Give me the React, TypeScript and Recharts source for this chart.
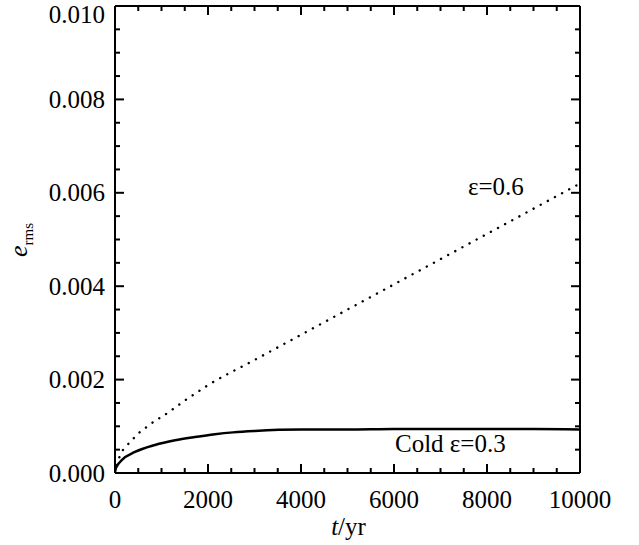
import React from 'react';
import { LineChart, Line, XAxis, YAxis } from 'recharts';

// Cold epsilon=0.3 (solid)
const coldTimes = [0, 10, 50, 150, 430, 860, 1290, 1720, 2150, 2540, 3000, 4000, 5000, 6000, 7000, 8000, 9000, 10000];
const coldValues = [0, 0.00007, 0.00016, 0.00028, 0.00045, 0.0006, 0.0007, 0.00077, 0.00083, 0.00087, 0.0009, 0.00093, 0.00093, 0.00094, 0.00094, 0.00094, 0.00094, 0.00093];

// epsilon=0.6 (dotted)
const hotTimes = [0, 50, 110, 250, 390, 540, 700, 880, 1000, 1500, 2000, 3000, 4000, 5000, 6000, 7000, 8000, 9000, 10000];
const hotValues = [0, 0.0002, 0.00038, 0.00058, 0.00073, 0.00088, 0.001, 0.00113, 0.0012, 0.00155, 0.00188, 0.00242, 0.00296, 0.0035, 0.00404, 0.00458, 0.00512, 0.00566, 0.0062];

const xMajorTicks = [0, 2000, 4000, 6000, 8000, 10000];
const xAllTicks = [0, 500, 1000, 1500, 2000, 2500, 3000, 3500, 4000, 4500, 5000, 5500, 6000, 6500, 7000, 7500, 8000, 8500, 9000, 9500, 10000];
const xTickLabels = ['0', '2000', '4000', '6000', '8000', '10000'];

const yMajorTicks = [0, 0.002, 0.004, 0.006, 0.008, 0.01];
const yAllTicks = [0, 0.0005, 0.001, 0.0015, 0.002, 0.0025, 0.003, 0.0035, 0.004, 0.0045, 0.005, 0.0055, 0.006, 0.0065, 0.007, 0.0075, 0.008, 0.0085, 0.009, 0.0095, 0.01];
const yTickLabels = ['0.000', '0.002', '0.004', '0.006', '0.008', '0.010'];

const hotLabel = '\u03b5=0.6';
const coldLabel = 'Cold \u03b5=0.3';

const coldData = coldTimes.map((t, i) => ({ t, v: coldValues[i] }));
const hotData = hotTimes.map((t, i) => ({ t, v: hotValues[i] }));

const FONT = 'Liberation Serif';
const FS = 25;
const MAJOR = 9;
const MINOR = 5;
const textStyle = { fontFamily: FONT };

const majorIndex = (arr: number[], v: number) => arr.findIndex((m) => Math.abs(m - v) < 1e-9);

const BottomTick = (p: any) => {
  const idx = majorIndex(xMajorTicks, p.payload.value);
  const len = idx >= 0 ? MAJOR : MINOR;
  return (
    <g>
      <line x1={p.x} x2={p.x} y1={p.y} y2={p.y - len} stroke="#000" strokeWidth={2} />
      {idx >= 0 && (
        <text x={p.x} y={p.y + 35} textAnchor="middle" style={textStyle} fontSize={FS} fill="#000">
          {xTickLabels[idx]}
        </text>
      )}
    </g>
  );
};

const TopTick = (p: any) => {
  const idx = majorIndex(xMajorTicks, p.payload.value);
  const len = idx >= 0 ? MAJOR : MINOR;
  return <line x1={p.x} x2={p.x} y1={p.y} y2={p.y + len} stroke="#000" strokeWidth={2} />;
};

const LeftTick = (p: any) => {
  const idx = majorIndex(yMajorTicks, p.payload.value);
  const len = idx >= 0 ? MAJOR : MINOR;
  const yy = Math.max(p.y + 8.5, 23);
  return (
    <g>
      <line x1={p.x} x2={p.x + len} y1={p.y} y2={p.y} stroke="#000" strokeWidth={2} />
      {idx >= 0 && (
        <text x={p.x - 10} y={yy} textAnchor="end" style={textStyle} fontSize={FS} fill="#000">
          {yTickLabels[idx]}
        </text>
      )}
    </g>
  );
};

const RightTick = (p: any) => {
  const idx = majorIndex(yMajorTicks, p.payload.value);
  const len = idx >= 0 ? MAJOR : MINOR;
  return <line x1={p.x} x2={p.x - len} y1={p.y} y2={p.y} stroke="#000" strokeWidth={2} />;
};

const Annotations = (props: any) => {
  const vb = props.viewBox || { x: 115, y: 473, width: 465, height: 0 };
  const cx = vb.x + vb.width / 2;
  return (
    <g style={textStyle} fill="#000">
      <text x={cx + 1} y={535} textAnchor="middle" fontSize={FS} style={textStyle}>
        <tspan fontStyle="italic">t</tspan>
        <tspan>/yr</tspan>
      </text>
      <text x={468} y={195} fontSize={FS} style={textStyle}>{hotLabel}</text>
      <text x={395} y={452} fontSize={FS} style={textStyle}>{coldLabel}</text>
      <text transform="translate(27,240) rotate(-90)" textAnchor="middle" fontSize={26} style={textStyle}>
        <tspan fontStyle="italic">e</tspan>
        <tspan fontSize={15} dy={6}>rms</tspan>
      </text>
    </g>
  );
};

const axisLine = { stroke: '#000', strokeWidth: 2 };

export default function App() {
  return (
    <div style={{ position: 'absolute', left: 0, top: 0, background: '#fff' }}>
      <LineChart width={639} height={545} margin={{ top: 5, right: 58, bottom: 71, left: 114 }}>
        <XAxis xAxisId="b" dataKey="t" type="number" domain={[0, 10000]} allowDataOverflow
          ticks={xAllTicks} interval={0} orientation="bottom" height={1}
          axisLine={axisLine} tickLine={false} tickSize={0} tickMargin={0} tick={BottomTick}
          label={<Annotations />} />
        <XAxis xAxisId="t" dataKey="t" type="number" domain={[0, 10000]} allowDataOverflow
          ticks={xAllTicks} interval={0} orientation="top" height={1}
          axisLine={axisLine} tickLine={false} tickSize={0} tickMargin={0} tick={TopTick} />
        <YAxis yAxisId="l" type="number" domain={[0, 0.01]} allowDataOverflow
          ticks={yAllTicks} interval={0} orientation="left" width={1}
          axisLine={axisLine} tickLine={false} tickSize={0} tickMargin={0} tick={LeftTick} />
        <YAxis yAxisId="r" type="number" domain={[0, 0.01]} allowDataOverflow
          ticks={yAllTicks} interval={0} orientation="right" width={1}
          axisLine={axisLine} tickLine={false} tickSize={0} tickMargin={0} tick={RightTick} />

        <Line data={hotData} dataKey="v" xAxisId="b" yAxisId="l" type="monotone" dot={false}
          stroke="#000" strokeWidth={2.4} strokeDasharray="0.1 8" strokeLinecap="round"
          isAnimationActive={false} />
        <Line data={coldData} dataKey="v" xAxisId="b" yAxisId="l" type="monotone" dot={false}
          stroke="#000" strokeWidth={2.5} isAnimationActive={false} />
      </LineChart>
    </div>
  );
}
